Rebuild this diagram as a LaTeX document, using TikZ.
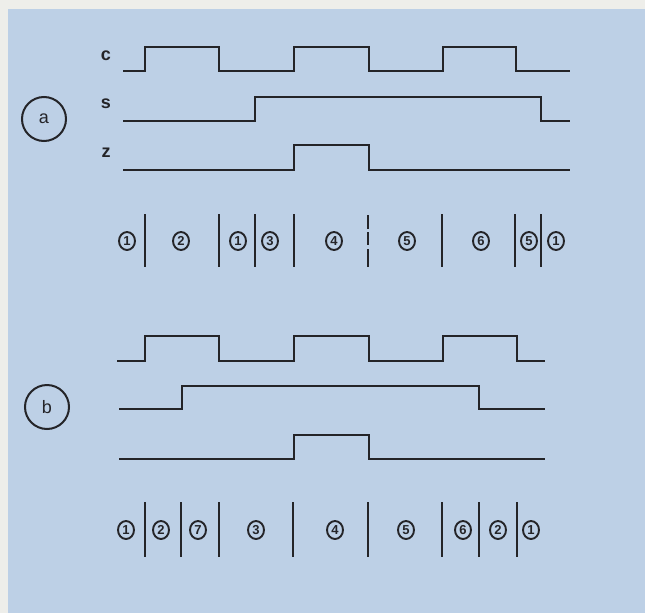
\documentclass[tikz,border=0pt]{standalone}
\usepackage{fontspec}
\setmainfont{Liberation Sans}
\usetikzlibrary{shapes.geometric}
\definecolor{bg}{RGB}{189,208,230}
\definecolor{margin}{RGB}{238,238,234}
\definecolor{ink}{RGB}{36,36,40}
\begin{document}
\begin{tikzpicture}[x=1pt,y=-1pt,
  wave/.style={draw=ink,line width=2.9pt,line join=miter},
  bar/.style={draw=ink,line width=2.8pt},
  num/.style={ellipse,draw=ink,text=ink,line width=1.9pt,inner sep=0pt,minimum width=16pt,minimum height=18pt,font=\bfseries\fontsize{13}{13}\selectfont},
  sig/.style={text=ink,font=\bfseries\fontsize{18}{18}\selectfont},
  tag/.style={circle,draw=ink,text=ink,line width=2pt,inner sep=0pt,minimum size=44pt,font=\fontsize{18}{18}\selectfont}]
\useasboundingbox (0,0) rectangle (645,613);
\fill[margin] (0,0) rectangle (645,613);
\fill[bg] (8,9) rectangle (645,613);

% ---- part a ----
\node[tag] (ta) at (44,119) {a};
\node[sig] (lc) at (106,56) {c};
\node[sig] (ls) at (106,104) {s};
\node[sig] (lz) at (106,153) {z};

\draw[wave] (123,71) -- (145,71) -- (145,47) -- (219,47) -- (219,71) -- (294,71) -- (294,47) -- (369,47) -- (369,71) -- (443,71) -- (443,47) -- (516,47) -- (516,71) -- (570,71);
\draw[wave] (123,121) -- (255,121) -- (255,97) -- (541,97) -- (541,121) -- (570,121);
\draw[wave] (123,170) -- (294,170) -- (294,145) -- (369,145) -- (369,170) -- (570,170);

\foreach \x in {145,219,255,294,442,515,541} \draw[bar] (\x,214) -- (\x,267);
\draw[bar] (368,215) -- (368,229);
\draw[bar] (368,232) -- (368,245);
\draw[bar] (368,249) -- (368,267);

\node[num] (a1) at (127,241) {1};
\node[num] (a2) at (181,241) {2};
\node[num] (a3) at (238,241) {1};
\node[num] (a4) at (270,241) {3};
\node[num] (a5) at (334,241) {4};
\node[num] (a6) at (407,241) {5};
\node[num] (a7) at (481,241) {6};
\node[num] (a8) at (529,241) {5};
\node[num] (a9) at (556,241) {1};

% ---- part b ----
\node[tag] (tb) at (47,407) {b};

\draw[wave] (117,361) -- (145,361) -- (145,336) -- (219,336) -- (219,361) -- (294,361) -- (294,336) -- (369,336) -- (369,361) -- (443,361) -- (443,336) -- (517,336) -- (517,361) -- (545,361);
\draw[wave] (119,409) -- (182,409) -- (182,386) -- (479,386) -- (479,409) -- (545,409);
\draw[wave] (119,459) -- (294,459) -- (294,435) -- (369,435) -- (369,459) -- (545,459);

\foreach \x in {145,181,219,293,368,442,479,517} \draw[bar] (\x,502) -- (\x,557);

\node[num] (b1) at (126,530) {1};
\node[num] (b2) at (161,530) {2};
\node[num] (b3) at (198,530) {7};
\node[num] (b4) at (256,530) {3};
\node[num] (b5) at (335,530) {4};
\node[num] (b6) at (406,530) {5};
\node[num] (b7) at (463,530) {6};
\node[num] (b8) at (498,530) {2};
\node[num] (b9) at (531,530) {1};
\end{tikzpicture}
\end{document}
